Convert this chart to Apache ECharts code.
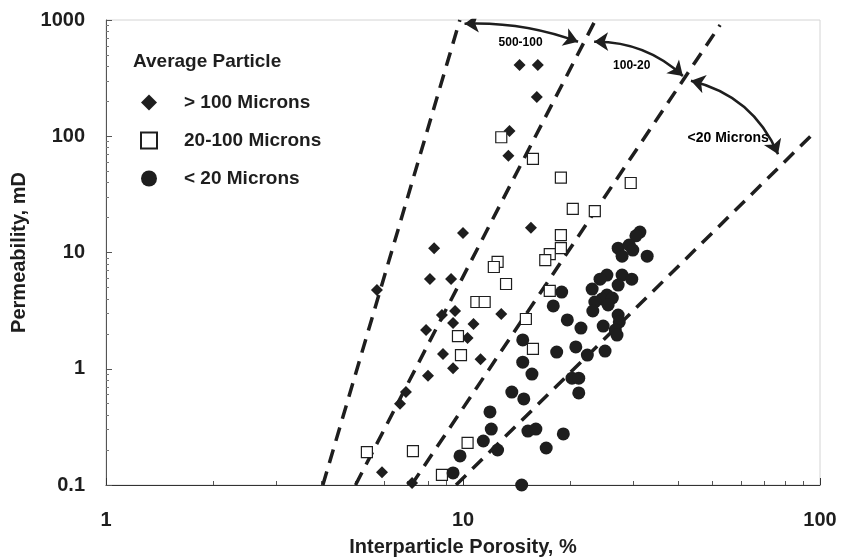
<!DOCTYPE html>
<html>
<head>
    <meta charset="UTF-8">
    <title>Permeability vs Interparticle Porosity</title>
    <script src="https://cdn.jsdelivr.net/npm/echarts@6/dist/echarts.min.js"></script>
    <style>
        html, body { margin: 0; padding: 0; background: #fff; }
        #chart { width: 847px; height: 559px; }
    </style>
</head>
<body>
<div id="chart"></div>
<script>
    // porosity (%) / permeability (mD) pairs
    var coarse = [ // > 100 microns
        [14.4, 410], [16.2, 410], [16.1, 218], [13.5, 111], [13.4, 68],
        [10.0, 14.7], [15.5, 16.3], [8.3, 10.9], [5.74, 4.76], [8.08, 5.92],
        [9.26, 5.92], [9.50, 3.14], [8.73, 2.90], [9.38, 2.47], [10.7, 2.43],
        [12.8, 2.96], [7.88, 2.15], [10.3, 1.84], [8.79, 1.34], [9.38, 1.01],
        [11.2, 1.21], [7.98, 0.87], [6.92, 0.63], [6.66, 0.50], [5.93, 0.129],
        [7.20, 0.104]
    ];
    var medium = [ // 20-100 microns
        [12.8, 98], [15.7, 64], [18.8, 44], [29.5, 39.6], [20.3, 23.7],
        [23.4, 22.7], [18.8, 14.1], [18.8, 10.9], [17.5, 9.7], [17.0, 8.6],
        [12.5, 8.3], [12.2, 7.5], [13.2, 5.36], [10.9, 3.75], [11.5, 3.75],
        [17.5, 4.67], [15.0, 2.68], [15.7, 1.48], [9.68, 1.91], [9.87, 1.31],
        [5.38, 0.192], [7.24, 0.196], [10.3, 0.230], [8.73, 0.122]
    ];
    var fine = [ // < 20 microns
        [31.3, 15.0], [30.5, 13.9], [27.2, 10.9], [27.9, 9.3], [29.2, 11.6],
        [29.9, 10.5], [32.8, 9.3], [25.3, 6.4], [27.9, 6.4], [29.7, 5.9],
        [24.2, 5.9], [23.0, 4.85], [27.2, 5.25], [18.9, 4.57], [25.3, 4.31],
        [24.5, 3.98], [26.2, 4.06], [25.5, 3.54], [23.4, 3.75], [23.1, 3.14],
        [17.9, 3.47], [27.2, 2.90], [27.4, 2.53], [26.7, 2.15], [27.0, 1.95],
        [19.6, 2.63], [21.4, 2.24], [24.7, 2.33], [14.7, 1.77], [18.3, 1.39],
        [20.7, 1.54], [22.3, 1.31], [25.0, 1.42], [14.7, 1.14], [15.6, 0.90],
        [20.2, 0.83], [21.1, 0.83], [21.1, 0.62], [13.7, 0.63], [14.8, 0.55],
        [11.9, 0.425], [12.0, 0.303], [11.4, 0.239], [12.5, 0.200], [9.81, 0.178],
        [9.38, 0.127], [15.2, 0.291], [16.0, 0.303], [19.1, 0.275], [17.1, 0.208],
        [14.6, 0.100]
    ];

    // dashed boundary lines, each from bottom end to top end
    var boundaries = [
        [[4.05, 0.1], [9.8, 1000]],
        [[5.0, 0.1], [23.5, 1000]],
        [[7.17, 0.1], [52.5, 906]],
        [[9.56, 0.1], [95.0, 103]]
    ];
    // curved double arrows between the lines, with their labels
    var arrows = [
        [[10.1, 930], [21.0, 650]],
        [[23.3, 650], [41.3, 330]],
        [[43.5, 300], [76.3, 70]]
    ];
    var arrowCurve = [0.1, 0.2, 0.25];
    var arrowLabels = [
        [14.5, 634, '500-100'],
        [29.7, 402, '100-20'],
        [55.3, 96.6, '<20 Microns']
    ];
    var arrowLabelSize = [12, 12, 14];

    var xTicks = [1, 10, 100];
    var yTicks = [0.1, 1, 10, 100, 1000];

    var ink = '#1e1e1e';
    var font = 'Liberation Sans, Arial, sans-serif';

    var myChart = echarts.init(document.getElementById('chart'));

    var series = [];
    boundaries.forEach(function (b) {
        series.push({
            type: 'line',
            data: b,
            symbol: 'none',
            silent: true,
            lineStyle: { color: ink, width: 3.5, type: [14, 9] },
            z: 1
        });
    });
    series.push({
        type: 'lines',
        coordinateSystem: 'cartesian2d',
        silent: true,
        symbol: ['arrow', 'arrow'],
        symbolSize: 14,
        data: arrows.map(function (a, i) {
            return { coords: a, lineStyle: { curveness: arrowCurve[i] } };
        }),
        lineStyle: { color: ink, width: 2.5, opacity: 1 },
        z: 3
    });
    series.push({
        type: 'scatter',
        silent: true,
        symbolSize: 0,
        itemStyle: { opacity: 1 },
        data: arrowLabels.map(function (l, i) {
            return {
                value: [l[0], l[1]],
                label: { formatter: l[2], fontSize: arrowLabelSize[i] }
            };
        }),
        label: {
            show: true,
            position: 'inside',
            color: '#000',
            fontFamily: font,
            fontWeight: 'bold'
        },
        z: 4
    });
    series.push({
        name: '> 100 Microns',
        type: 'scatter',
        symbol: 'diamond',
        symbolSize: 12,
        itemStyle: { color: ink, opacity: 1 },
        data: coarse,
        z: 5
    });
    series.push({
        name: '20-100 Microns',
        type: 'scatter',
        symbol: 'rect',
        symbolSize: 11,
        itemStyle: { color: '#fff', borderColor: ink, borderWidth: 1.2, opacity: 1 },
        data: medium,
        z: 5
    });
    series.push({
        name: '< 20 Microns',
        type: 'scatter',
        symbol: 'circle',
        symbolSize: 13,
        itemStyle: { color: ink, opacity: 1 },
        data: fine,
        z: 5
    });

    var option = {
        backgroundColor: '#fff',
        animation: false,
        textStyle: { fontFamily: font },
        title: {
            text: 'Average Particle',
            left: 128,
            top: 47,
            textStyle: { fontSize: 19, fontWeight: 'bold', color: ink, fontFamily: font }
        },
        legend: {
            data: ['> 100 Microns', '20-100 Microns', '< 20 Microns'],
            orient: 'vertical',
            left: 135,
            top: 88,
            itemGap: 19,
            itemWidth: 16,
            itemHeight: 16,
            selectedMode: false,
            textStyle: { fontSize: 19, fontWeight: 'bold', color: ink, fontFamily: font, padding: [0, 0, 0, 22] }
        },
        grid: {
            left: 106, right: 27, top: 20, bottom: 74,
            outerBoundsMode: 'none',
            show: true, borderColor: '#d4d4d4', borderWidth: 1
        },
        xAxis: {
            type: 'log',
            logBase: 10,
            min: xTicks[0],
            max: xTicks[xTicks.length - 1],
            name: 'Interparticle Porosity, %',
            nameLocation: 'middle',
            nameGap: 52,
            nameTextStyle: { fontSize: 20, fontWeight: 'bold', color: ink, fontFamily: font },
            axisLine: { lineStyle: { color: '#333', width: 1 } },
            axisTick: { show: true, inside: true, length: 7, lineStyle: { color: '#333' } },
            minorTick: { show: true, splitNumber: 9, length: 4, lineStyle: { color: '#555' } },
            axisLabel: { fontSize: 20, fontWeight: 'bold', color: ink, margin: 25, fontFamily: font },
            splitLine: { show: false }
        },
        yAxis: {
            type: 'log',
            logBase: 10,
            min: yTicks[0],
            max: yTicks[yTicks.length - 1],
            name: 'Permeability, mD',
            nameLocation: 'middle',
            nameGap: 74,
            nameTextStyle: { fontSize: 20, fontWeight: 'bold', color: ink, fontFamily: font },
            axisLine: { show: true, lineStyle: { color: '#555', width: 1 } },
            axisTick: { show: true, inside: true, length: 6, lineStyle: { color: '#555' } },
            minorTick: { show: true, splitNumber: 9, length: 3, lineStyle: { color: '#777' } },
            axisLabel: {
                fontSize: 20, fontWeight: 'bold', color: ink, margin: 21, fontFamily: font,
                formatter: function (v) { return String(v); }
            },
            splitLine: { show: false }
        },
        series: series
    };
    myChart.setOption(option);
</script>
</body>
</html>
